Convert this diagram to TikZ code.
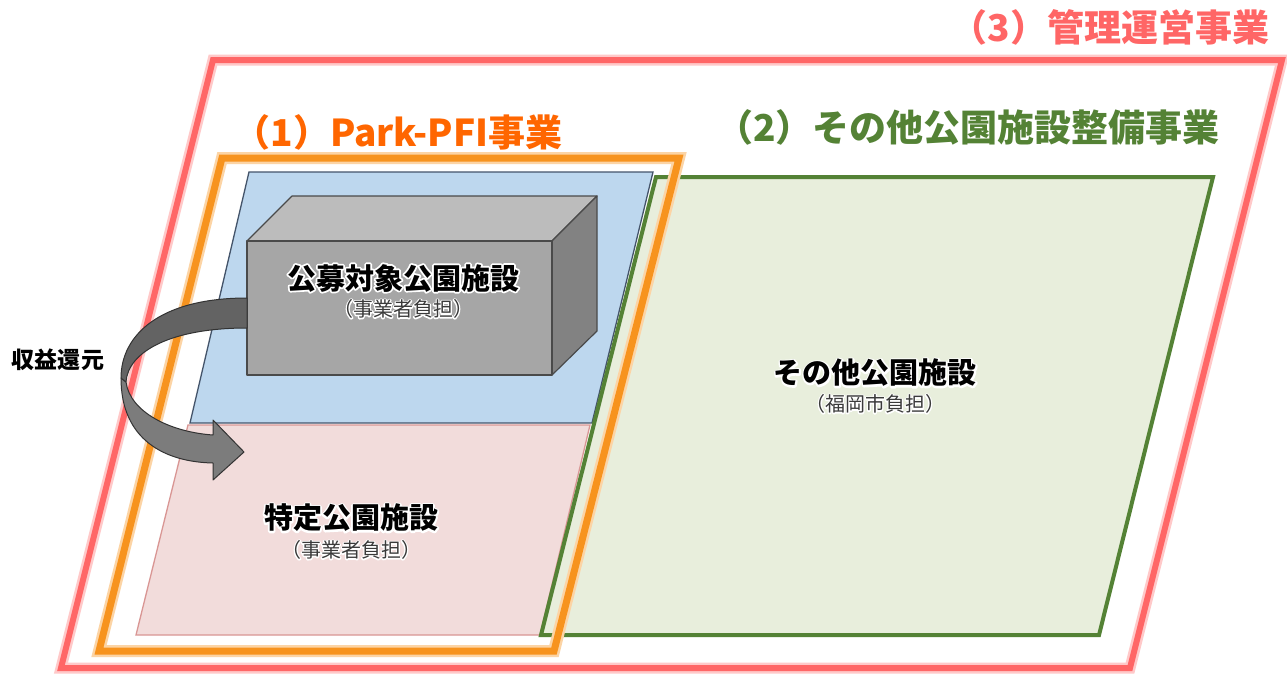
\documentclass[tikz,border=0pt]{standalone}
\usepackage{fontspec}
\setmainfont{Noto Sans CJK JP}
\definecolor{redF}{HTML}{FF6666}
\definecolor{orgF}{HTML}{F7931E}
\definecolor{orgT}{HTML}{FF6600}
\definecolor{grnF}{HTML}{548235}
\definecolor{grnFill}{HTML}{E8EEDC}
\definecolor{bluFill}{HTML}{BDD7EE}
\definecolor{bluLine}{HTML}{44546A}
\definecolor{pnkFill}{HTML}{F2DCDB}
\definecolor{pnkLine}{HTML}{D99694}
\definecolor{boxFront}{HTML}{A6A6A6}
\definecolor{boxTop}{HTML}{BCBCBC}
\definecolor{boxSide}{HTML}{828282}
\definecolor{boxLine}{HTML}{4A4A4A}
\definecolor{arrTop}{HTML}{636363}
\definecolor{arrBot}{HTML}{7C7C7C}
\definecolor{subTxt}{HTML}{3A3A3A}
\newcommand\halotext[2]{\makebox[0pt][l]{\special{pdf:literal direct #1 w 1 j 2 Tr}\textcolor{white}{#2}\special{pdf:literal direct 0 Tr}}#2}
\tikzset{
  glowred/.style={draw=redF!35, line width=11pt, line join=miter},
  framered/.style={draw=redF, line width=6pt, line join=miter},
  gloworg/.style={draw=orgF!40, line width=12pt, line join=miter},
  frameorg/.style={draw=orgF, line width=7pt, line join=miter},
  grnarea/.style={fill=grnFill, draw=grnF, line width=4pt, line join=miter},
  bluarea/.style={fill=bluFill, draw=bluLine, line width=1.3pt},
  pnkarea/.style={fill=pnkFill, draw=pnkLine, line width=1.3pt},
  boxface/.style={draw=boxLine, line width=1.2pt, line join=round},
  arrpart/.style={draw=black!80, line width=1pt, line join=round},
  title/.style={font=\bfseries\fontsize{37}{37}\selectfont, inner sep=0pt, anchor=center},
  lbl/.style={font=\bfseries\fontsize{29}{29}\selectfont, inner sep=0pt, anchor=center},
  sublbl/.style={font=\fontsize{20}{20}\selectfont, text=subTxt, inner sep=0pt, anchor=center},
}
\begin{document}
\begin{tikzpicture}[x=1pt,y=-1pt]
\path[use as bounding box, fill=white] (0,0) rectangle (1287,675);
% (3) red frame
\draw[glowred] (213,60) -- (1282,60) -- (1130,668) -- (61,668) -- cycle;
\draw[framered] (213,60) -- (1282,60) -- (1130,668) -- (61,668) -- cycle;
% pink area
\draw[pnkarea] (188,425) -- (590,425) -- (540,635) -- (136,635) -- cycle;
% blue area
\draw[bluarea] (249,172) -- (653,172) -- (592,423) -- (190,423) -- cycle;
% green area
\draw[grnarea] (656,177) -- (1213,177) -- (1099,635) -- (541,635) -- cycle;
% box
\draw[boxface, fill=boxTop] (247,241) -- (292,196) -- (597,196) -- (552,241) -- cycle;
\draw[boxface, fill=boxSide] (552,241) -- (597,196) -- (597,331) -- (552,375) -- cycle;
\draw[boxface, fill=boxFront] (247,241) rectangle (552,375);
% (1) orange frame
\draw[gloworg] (222,158) -- (679,158) -- (554,651) -- (99,651) -- cycle;
\draw[frameorg] (222,158) -- (679,158) -- (554,651) -- (99,651) -- cycle;
% curved arrow
\draw[arrpart, fill=arrBot] (121,378) .. controls (121,440) and (165,462) .. (213,463)
  -- (213,480) -- (244,452) -- (213,420) -- (213,435)
  .. controls (170,432) and (130,412) .. (126,382) -- cycle;
\draw[arrpart, fill=arrTop] (247,298) .. controls (160,298) and (121,335) .. (121,378)
  -- (126,382) .. controls (128,352) and (170,328) .. (247,328) -- cycle;
% titles
\node[title, text=redF] (t3) at (1110,27) {（3）管理運営事業};
\node[title, text=orgT] (t1) at (398,132) {（1）Park-PFI事業};
\node[title, text=grnF] (t2) at (968,127) {（2）その他公園施設整備事業};
% labels
\node[lbl] (l1) at (403,278) {\halotext{3.5}{公募対象公園施設}};
\node[sublbl] (s1) at (403,309) {\halotext{2.5}{（事業者負担）}};
\node[lbl] (l2) at (875,373) {\halotext{3.5}{その他公園施設}};
\node[sublbl] (s2) at (875,404) {\halotext{2.5}{（福岡市負担）}};
\node[lbl] (l3) at (351,518) {\halotext{3.5}{特定公園施設}};
\node[sublbl] (s3) at (351,550) {\halotext{2.5}{（事業者負担）}};
\node[font=\bfseries\fontsize{23}{23}\selectfont, inner sep=0pt] (rv) at (58,360) {収益還元};
\end{tikzpicture}
\end{document}
